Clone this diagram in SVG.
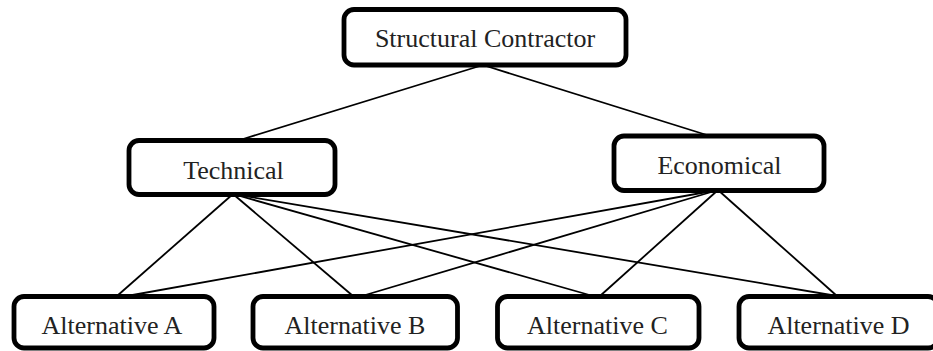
<svg xmlns="http://www.w3.org/2000/svg" width="933" height="351" viewBox="0 0 933 351">
<style>
.box{fill:#fff;stroke:#000;stroke-width:4.8}
.lbl{font-family:"Liberation Serif","Times New Roman",serif;font-size:26px;fill:#222;text-anchor:middle}
.conn line{stroke:#000;stroke-width:1.8}
</style>
<rect width="933" height="351" fill="#fff"/>
<g id="connectors" class="conn">
<line x1="483" y1="65" x2="240" y2="140"/>
<line x1="483" y1="65" x2="710" y2="136"/>
<line x1="233" y1="194" x2="117" y2="296"/>
<line x1="233" y1="194" x2="353" y2="296"/>
<line x1="233" y1="194" x2="593" y2="296"/>
<line x1="233" y1="194" x2="837" y2="296"/>
<line x1="718" y1="190" x2="127" y2="296"/>
<line x1="718" y1="190" x2="362" y2="296"/>
<line x1="718" y1="190" x2="600" y2="296"/>
<line x1="718" y1="190" x2="837" y2="296"/>
</g>
<g id="structural-contractor">
<rect class="box" x="344" y="9.5" width="282" height="55.5" rx="10"/>
<text class="lbl" x="485" y="47">Structural Contractor</text>
</g>
<g id="technical">
<rect class="box" x="129" y="140.5" width="206" height="54" rx="10"/>
<text class="lbl" x="233.5" y="179">Technical</text>
</g>
<g id="economical">
<rect class="box" x="614" y="136" width="210" height="54.5" rx="10"/>
<text class="lbl" x="719.5" y="173.5">Economical</text>
</g>
<g id="alternative-a">
<rect class="box" x="14" y="296.5" width="200" height="51.5" rx="10"/>
<text class="lbl" x="112" y="333.5">Alternative A</text>
</g>
<g id="alternative-b">
<rect class="box" x="253" y="296.5" width="204.5" height="51.5" rx="10"/>
<text class="lbl" x="355" y="333.5">Alternative B</text>
</g>
<g id="alternative-c">
<rect class="box" x="497.5" y="296.5" width="201.5" height="51.5" rx="10"/>
<text class="lbl" x="597.5" y="333.5">Alternative C</text>
</g>
<g id="alternative-d">
<rect class="box" x="739" y="296.5" width="199" height="51.5" rx="10"/>
<text class="lbl" x="838.5" y="333.5">Alternative D</text>
</g>
</svg>
